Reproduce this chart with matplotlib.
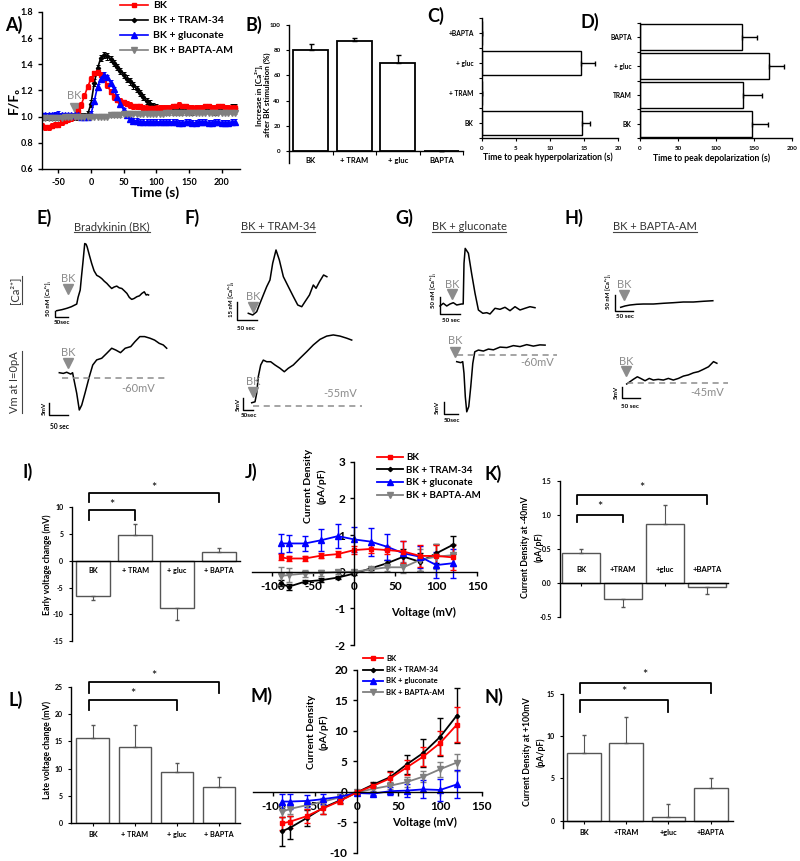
import matplotlib
matplotlib.use("Agg")
import matplotlib.pyplot as plt
import numpy as np
from matplotlib.lines import Line2D

plt.rcParams["font.family"] = ["Lato", "DejaVu Sans"]
plt.rcParams["font.weight"] = "bold"
plt.rcParams["axes.unicode_minus"] = False
plt.rcParams["axes.linewidth"] = 1.0
plt.rcParams["xtick.major.width"] = 1.0
plt.rcParams["ytick.major.width"] = 1.0
plt.rcParams["xtick.major.size"] = 3
plt.rcParams["ytick.major.size"] = 3

W, H = 800, 861
GRAY = "#8c8c8c"

# ---------------- data ----------------
# A) normalised fluorescence, sampled every 5 s
a_time = np.arange(-75, 221, 5)
a_bk = [0.93, 0.92, 0.92, 0.93, 0.94, 0.94, 0.96, 0.97, 0.98, 0.99,
        1.00, 1.04, 1.09, 1.16, 1.23, 1.29, 1.33, 1.34, 1.32, 1.29,
        1.24, 1.19, 1.15, 1.13, 1.12, 1.11, 1.10, 1.09, 1.08, 1.08,
        1.08, 1.07, 1.07, 1.07, 1.07, 1.07, 1.07, 1.07, 1.07, 1.07,
        1.08, 1.08, 1.09, 1.08, 1.08, 1.07, 1.07, 1.07, 1.07, 1.07,
        1.08, 1.08, 1.07, 1.07, 1.08, 1.08, 1.07, 1.07, 1.07, 1.07]
a_tram = [1.00, 1.00, 1.00, 1.00, 1.00, 1.00, 1.00, 1.00, 1.00, 1.00,
          1.00, 1.00, 1.00, 1.00, 1.02, 1.10, 1.26, 1.37, 1.45, 1.47,
          1.46, 1.44, 1.41, 1.38, 1.35, 1.32, 1.29, 1.27, 1.24, 1.21,
          1.18, 1.15, 1.12, 1.10, 1.08, 1.07, 1.06, 1.06, 1.05, 1.05,
          1.05, 1.05, 1.05, 1.05, 1.05, 1.05, 1.04, 1.05, 1.05, 1.05,
          1.05, 1.05, 1.05, 1.04, 1.05, 1.05, 1.06, 1.06, 1.07, 1.07]
a_gluc = [1.01, 1.01, 1.01, 1.01, 1.015, 1.02, 1.01, 1.01, 1.01, 1.01,
          1.01, 1.01, 1.00, 1.00, 1.00, 1.02, 1.12, 1.23, 1.29, 1.32,
          1.30, 1.26, 1.21, 1.15, 1.10, 1.05, 1.01, 0.98, 0.97, 0.97,
          0.96, 0.96, 0.96, 0.96, 0.96, 0.96, 0.96, 0.96, 0.96, 0.96,
          0.96, 0.96, 0.955, 0.955, 0.96, 0.96, 0.955, 0.955, 0.96, 0.96,
          0.96, 0.955, 0.955, 0.96, 0.96, 0.955, 0.955, 0.955, 0.96, 0.96]
a_bapta = [0.99, 0.99, 0.99, 0.99, 0.99, 0.99, 0.99, 0.995, 0.995, 1.00,
           1.00, 1.00, 1.00, 1.00, 1.00, 1.00, 1.00, 1.00, 1.00, 1.00,
           1.00, 1.01, 1.01, 1.01, 1.01, 1.02, 1.02, 1.02, 1.02, 1.02,
           1.02, 1.02, 1.02, 1.02, 1.02, 1.02, 1.02, 1.02, 1.025, 1.025,
           1.025, 1.025, 1.025, 1.025, 1.025, 1.03, 1.03, 1.03, 1.03, 1.03,
           1.03, 1.03, 1.03, 1.03, 1.03, 1.03, 1.03, 1.03, 1.03, 1.03]
a_err = {"BK": 0.02, "BK + TRAM-34": 0.025, "BK + gluconate": 0.02, "BK + BAPTA-AM": 0.01}
a_bk_time = -25

# B) increase in [Ca2+]i
b_labels = ["BK", "+ TRAM", "+ gluc", "BAPTA"]
b_vals = [80, 87, 70, 0]
b_err = [5, 3, 6, 0]

# C) time to peak hyperpolarization
c_labels = ["BK", "+ TRAM", "+ gluc", "+BAPTA"]
c_vals = [14.7, 0, 14.5, 0]
c_err = [1.2, 0, 2.1, 0]

# D) time to peak depolarization
d_labels = ["BK", "TRAM", "+ gluc", "BAPTA"]
d_vals = [148, 136, 170, 134]
d_err = [20, 24, 19, 20]

# E-H) example traces (time in s, Ca in nM, Vm in mV)
e_ca_t = [0, 20, 38, 55, 75, 80, 88, 93, 98, 105, 110, 114, 122, 131, 140, 150, 160, 169, 178, 188,
          197, 206, 215, 225, 234, 244, 253, 263, 272, 281, 290, 300, 310, 319, 328, 335, 340, 344]
e_ca_v = [0, 8, 18, 30, 50, 100, 155, 260, 358, 505, 500, 480, 420, 355, 300, 266, 255, 241, 222, 205,
          185, 167, 178, 185, 172, 167, 150, 130, 100, 85, 92, 105, 112, 130, 142, 118, 122, 118]
e_vm_t = [0, 10.5, 19.5, 30, 35, 38.7, 45.8, 52.6, 59, 67.6, 79, 88, 98.4, 111.6, 124.7, 137.9,
          149, 161, 173.4, 188, 199, 212, 224.5, 238.7, 250.8, 263, 273.7, 282.6]
e_vm_v = [-57.6, -57.9, -57.4, -58.2, -57.6, -60.7, -66.4, -73.6, -71.5, -66.4, -59.3, -54.3, -52.1,
          -51.4, -49.3, -47.1, -47.9, -49.0, -47.1, -46.4, -44.3, -42.1, -42.1, -42.8, -43.6, -45.0,
          -45.7, -47.1]
e_rest = -60

f_ca_t = [0, 11.4, 21.7, 30.2, 38.8, 47.5, 56, 63, 71.6, 80.2, 90.6, 103.5, 116.4, 127.8, 138.1,
          146.7, 158, 168, 175, 184, 194.5, 203]
f_ca_v = [0, -1.4, 1.3, 8.2, 15, 21.8, 27.3, 41, 51.9, 43.7, 30, 21.8, 13.7, 6.8, 5.4, 9.6, 15,
          23.2, 20.5, 25.9, 31.4, 30]
f_vm_t = [0, 16.5, 25, 33, 45, 58, 75, 95, 116.5, 141.5, 163, 183, 208, 241.5, 275, 308, 341.5,
          375, 408, 441.5, 475, 500]
f_vm_v = [-53.6, -53.2, -49.5, -42.4, -37.4, -35.3, -36.0, -36.0, -37.4, -38.8, -40.3, -38.8,
          -37.4, -34.5, -31.7, -28.8, -26.4, -25.0, -24.5, -25.0, -25.9, -26.7]
f_rest = -55

g_ca_t = [0, 8.3, 16.8, 25, 33.3, 41.8, 54, 58, 60, 63, 71, 79, 87.5, 96, 107, 117, 125, 137.5,
          150, 162.5, 175, 187.5, 200, 212.5, 225, 237.5]
g_ca_v = [0, 7.8, 0, 5.8, 9.5, 2.9, 5.8, 5.8, 123, 166, 152, 94, 37, -11.5, -21, -19.3, -23, -6.6,
          -9.5, -3.7, -13.5, -2, -11.5, -6.6, -2, -4.9]
g_vm_t = [0, 14, 21, 25.4, 30, 35, 42, 49, 56, 63, 75.6, 93, 110.5, 128, 151, 174.5, 197.5, 220.6,
          244, 267, 290, 308]
g_vm_v = [-62.7, -63.1, -62.7, -67.4, -76.9, -83.0, -80.9, -72.8, -63.4, -58.7, -58.0, -58.4,
          -57.6, -57.9, -56.8, -57.0, -56.2, -56.6, -55.8, -56.4, -55.9, -56.0]
g_rest = -60

h_ca_t = [0, 11.7, 25.3, 43.6, 61.7, 89, 116, 143.5, 170.6, 198, 225, 251]
h_ca_v = [0, 4.2, 7.3, 9.6, 10.5, 10.5, 12.8, 14.7, 16.9, 16.9, 19.2, 21]
h_vm_t = [0, 9, 18, 29, 38, 50, 61.5, 72.5, 86, 100, 113.5, 127, 141, 154.5, 168, 182, 195.5, 209,
          223, 236.5, 245.7]
h_vm_v = [-45.3, -44.3, -43.3, -42.2, -42.9, -43.9, -42.9, -43.6, -43.3, -43.6, -42.9, -43.6,
          -42.9, -41.9, -41.4, -40.5, -40.0, -39.0, -37.9, -35.7, -36.4]
h_rest = -45

# I, K, L, N) group means
i_labels = ["BK", "+ TRAM", "+ gluc", "+ BAPTA"]
i_vals = [-6.5, 4.8, -8.8, 1.6]
i_err = [0.9, 2.0, 2.2, 0.8]
k_labels = ["BK", "+TRAM", "+gluc", "+BAPTA"]
k_vals = [0.44, -0.24, 0.86, -0.07]
k_err = [0.06, 0.11, 0.28, 0.10]
l_labels = ["BK", "+ TRAM", "+ gluc", "+ BAPTA"]
l_vals = [15.7, 14.0, 9.4, 6.5]
l_err = [2.4, 4.0, 1.7, 1.9]
n_labels = ["BK", "+TRAM", "+gluc", "+BAPTA"]
n_vals = [8.0, 9.2, 0.4, 3.9]
n_err = [2.1, 3.1, 1.6, 1.1]

# J, M) I-V relations
iv_mv = [-90, -80, -60, -40, -20, 0, 20, 40, 60, 80, 100, 120]
j_bk = [0.39, 0.36, 0.36, 0.44, 0.48, 0.59, 0.62, 0.59, 0.55, 0.43, 0.43, 0.39]
j_bk_err = [0.08, 0.08, 0.06, 0.06, 0.08, 0.10, 0.10, 0.12, 0.30, 0.30, 0.30, 0.35]
j_tram = [-0.32, -0.41, -0.27, -0.23, -0.16, -0.05, 0.09, 0.23, 0.41, 0.27, 0.50, 0.73]
j_tram_err = [0.08, 0.08, 0.05, 0.05, 0.04, 0.03, 0.05, 0.10, 0.20, 0.25, 0.25, 0.25]
j_gluc = [0.77, 0.77, 0.77, 0.86, 0.97, 0.88, 0.82, 0.68, 0.50, 0.41, 0.18, 0.23]
j_gluc_err = [0.25, 0.22, 0.20, 0.30, 0.33, 0.35, 0.38, 0.35, 0.33, 0.30, 0.35, 0.40]
j_bapta = [-0.12, -0.09, -0.05, -0.03, -0.01, 0.0, 0.06, 0.12, 0.12, 0.32, 0.41, 0.45]
j_bapta_err = [0.24, 0.20, 0.10, 0.08, 0.05, 0.03, 0.06, 0.10, 0.15, 0.30, 0.35, 0.30]

m_bk = [-5.2, -4.9, -4.0, -2.7, -1.5, -0.1, 1.0, 2.2, 4.0, 5.8, 8.0, 11.0]
m_bk_err = [1.0, 1.0, 1.1, 1.0, 0.5, 0.2, 0.4, 1.0, 1.3, 1.6, 2.0, 2.9]
m_tram = [-6.5, -5.9, -4.3, -2.6, -1.4, -0.1, 1.2, 2.4, 4.5, 6.4, 9.0, 12.5]
m_tram_err = [2.4, 1.9, 1.3, 1.0, 0.4, 0.1, 0.4, 1.0, 1.5, 2.3, 3.2, 4.5]
m_gluc = [-1.6, -1.6, -1.5, -1.2, -0.8, -0.2, -0.3, 0.1, 0.2, 0.4, 0.3, 1.2]
m_gluc_err = [1.2, 1.2, 1.0, 0.8, 0.4, 0.1, 0.3, 0.7, 1.0, 1.5, 1.8, 2.3]
m_bapta = [-3.3, -2.8, -2.2, -1.6, -0.9, -0.1, 0.5, 1.0, 1.6, 2.5, 3.7, 4.8]
m_bapta_err = [0.8, 0.8, 0.7, 0.6, 0.4, 0.1, 0.3, 0.6, 0.8, 0.9, 1.2, 1.4]

legend_labels = ["BK", "BK + TRAM-34", "BK + gluconate", "BK + BAPTA-AM"]
series_style = {"BK": ("#ff0000", "s", 3.2),
                "BK + TRAM-34": ("#000000", "D", 2.2),
                "BK + gluconate": ("#0000ff", "^", 3.8),
                "BK + BAPTA-AM": ("#808080", "v", 3.8)}

# ---------------- helpers ----------------
fig = plt.figure(figsize=(W / 100, H / 100), dpi=100)


def add_ax(l, t, r, b):
    return fig.add_axes([l / W, 1 - b / H, (r - l) / W, (b - t) / H])


def ftext(x, y, s, **kw):
    return fig.text(x / W, 1 - y / H, s, **kw)


def underline(txt, vertical=False, color="#444444"):
    bb = txt.get_window_extent(renderer=fig.canvas.get_renderer())
    if vertical:
        x = (bb.x1 + 1) / W
        ln = Line2D([x, x], [bb.y0 / H, bb.y1 / H], color=color, lw=0.8, transform=fig.transFigure)
    else:
        y = (bb.y0 + 0.5) / H
        ln = Line2D([bb.x0 / W, bb.x1 / W], [y, y], color=color, lw=0.8, transform=fig.transFigure)
    fig.add_artist(ln)


def bracket(ax, x1, x2, ytop, yleg, ystar):
    ax.plot([x1, x1, x2, x2], [yleg, ytop, ytop, yleg], color="black", lw=1.3, clip_on=False)
    ax.text((x1 + x2) / 2, ystar, "*", ha="center", va="center", fontsize=9, fontweight="normal")


def style_bar_axes(ax, tick_fs=5):
    for s in ("top", "right"):
        ax.spines[s].set_visible(False)
    ax.tick_params(labelsize=tick_fs, length=2.5, width=0.8)


def away_err(vals, errs):
    lo = [e if v < 0 else 0 for v, e in zip(vals, errs)]
    hi = [e if v >= 0 else 0 for v, e in zip(vals, errs)]
    return [lo, hi]


# ---------------- A ----------------
ax = add_ax(42, 12, 240, 169)
a_series = {"BK": a_bk, "BK + TRAM-34": a_tram, "BK + gluconate": a_gluc, "BK + BAPTA-AM": a_bapta}
handles = {}
for lab in ["BK + TRAM-34", "BK", "BK + gluconate", "BK + BAPTA-AM"]:
    col, mk, ms = series_style[lab]
    c = ax.errorbar(a_time, a_series[lab], yerr=a_err[lab], color=col, marker=mk, ms=ms, lw=1.2,
                    elinewidth=0.7, capsize=1.2, capthick=0.7)
    handles[lab] = c[0]
ax.set_xlim(-75, 228)
ax.set_ylim(0.6, 1.8)
ax.set_xticks([-50, 0, 50, 100, 150, 200])
ax.set_yticks([0.6, 0.8, 1.0, 1.2, 1.4, 1.6, 1.8])
ax.yaxis.set_major_formatter(matplotlib.ticker.FormatStrFormatter("%.1f"))
for s in ("top", "right"):
    ax.spines[s].set_visible(False)
ax.tick_params(labelsize=6.5, length=3)
ax.plot([a_bk_time], [1.07], marker="v", color=GRAY, ms=7)
ax.text(a_bk_time, 1.16, "BK", color=GRAY, fontsize=8, fontweight="normal", ha="center", va="center")
ax.legend([handles[l] for l in legend_labels], legend_labels, loc="upper left",
          bbox_to_anchor=(120 / W, 1 - 1 / H), bbox_transform=fig.transFigure, frameon=False,
          fontsize=7.5, handlelength=2.7, handletextpad=0.5, labelspacing=0.55,
          borderpad=0, borderaxespad=0)
ftext(155, 193, "Time (s)", fontsize=10, ha="center", va="center")
ftext(14, 100, "F/F₀", fontsize=10, rotation=90, ha="center", va="center")

# ---------------- B ----------------
ax = add_ax(289, 25, 463, 163)
x4 = np.arange(4)
ax.bar(x4, b_vals, 0.8, color="white", edgecolor="black", lw=1.3, zorder=2)
ax.errorbar(x4, b_vals, yerr=[[0] * 4, b_err], fmt="none", ecolor="black", elinewidth=1,
            capsize=1.8, zorder=3)
ax.set_xlim(-0.5, 3.5)
ax.set_ylim(-9.5, 100)
ax.spines["bottom"].set_position(("data", 0))
style_bar_axes(ax, 4.5)
ax.set_yticks([0, 20, 40, 60, 80, 100])
ax.set_xticks(x4)
ax.set_xticklabels(b_labels, fontsize=5.5)
ax.tick_params(axis="x", length=0, pad=4)
ax.set_xticks([0.5, 1.5, 2.5, 3.5], minor=True)
ax.tick_params(axis="x", which="minor", length=3, width=0.8)
ftext(263, 95, "Increase in [Ca²⁺]ᵢ\nafter BK stimulation (%)", fontsize=5.8, rotation=90,
      ha="center", va="center", linespacing=1.15)

# ---------------- C ----------------
ax = add_ax(482, 18, 618, 138)
ax.barh(x4, c_vals, 0.8, color="white", edgecolor="black", lw=1.0, zorder=2)
ax.errorbar(c_vals, x4, xerr=[[0] * 4, c_err], fmt="none", ecolor="black", elinewidth=1,
            capsize=1.8, zorder=3)
ax.set_xlim(0, 20)
ax.set_ylim(-0.42, 3.49)
style_bar_axes(ax, 4.5)
ax.set_yticks(x4)
ax.set_yticklabels(c_labels, fontsize=4.8)
ax.set_yticks([-0.5, 0.5, 1.5, 2.5, 3.5], minor=True)
ax.tick_params(axis="y", which="minor", length=2, width=0.8)
ax.set_xticks([0, 5, 10, 15, 20])
ftext(548, 157, "Time to peak hyperpolarization (s)", fontsize=6.2, ha="center", va="center")

# ---------------- D ----------------
ax = add_ax(640, 23, 792, 138)
ax.barh(x4, d_vals, 0.9, color="white", edgecolor="black", lw=1.0, zorder=2)
ax.errorbar(d_vals, x4, xerr=[[0] * 4, d_err], fmt="none", ecolor="black", elinewidth=1,
            capsize=1.8, zorder=3)
ax.set_xlim(0, 200)
ax.set_ylim(-0.5, 3.5)
style_bar_axes(ax, 4.5)
ax.set_yticks(x4)
ax.set_yticklabels(d_labels, fontsize=4.8)
ax.set_yticks([-0.5, 0.5, 1.5, 2.5, 3.5], minor=True)
ax.tick_params(axis="y", which="minor", length=2, width=0.8)
ax.set_xticks([0, 50, 100, 150, 200])
ftext(712, 158, "Time to peak depolarization (s)", fontsize=6.2, ha="center", va="center")


# ---------------- E-H traces ----------------
def trace(p, t, v):
    px0, py0, sx, sy, v0 = p
    ax = fig.add_axes([0, 0, 1, 1])
    ax.set_xlim(-px0 / sx, (W - px0) / sx)
    ax.set_ylim(v0 - (H - py0) / sy, v0 + py0 / sy)
    ax.axis("off")
    ax.plot(t, v, color="black", lw=1.1)
    return ax


def pxd(p, x, y):
    px0, py0, sx, sy, v0 = p
    return (x - px0) / sx, v0 + (py0 - y) / sy


def scalebar(ax, p, cx, cy, lt, lv):
    t0, v0 = pxd(p, cx, cy)
    ax.plot([t0, t0, t0 + lt], [v0 + lv, v0, v0], color="black", lw=1.0)


def bk_mark(ax, p, x, y, ty):
    ax.plot(*pxd(p, x, y), marker="v", color=GRAY, ms=6.5)
    ftext(x, ty, "BK", color=GRAY, fontsize=8, fontweight="normal", ha="center", va="center")


def rest_line(ax, t0, t1, rest, p, lx, ly, lab):
    ax.plot([t0, t1], [rest, rest], color=GRAY, lw=1.1, ls=(0, (4, 3)))
    ftext(lx, ly, lab, color=GRAY, fontsize=8, fontweight="normal", ha="center", va="center")


# E
p = (56.7, 310.7, 0.267, 0.133, 0)
ax = trace(p, e_ca_t, e_ca_v)
scalebar(ax, p, 55, 317.3, 50, 50)
bk_mark(ax, p, 68.3, 289.3, 278)
ftext(48, 299, "50 nM [Ca²⁺]ᵢ", fontsize=4.3, rotation=90, ha="center", va="center")
ftext(62, 323, "50sec", fontsize=4.5, ha="center", va="center")
p = (59.3, 378.3, 0.38, 2.33, e_rest)
ax = trace(p, e_vm_t, e_vm_v)
rest_line(ax, 6, 283, e_rest, p, 138, 388, "-60mV")
scalebar(ax, p, 49.3, 415, 50, 5)
bk_mark(ax, p, 68.3, 363.3, 353)
ftext(44, 408, "5mV", fontsize=4.5, rotation=90, ha="center", va="center")
ftext(59, 427, "50 sec", fontsize=4.8, ha="center", va="center")

# F
p = (248.3, 313.3, 0.387, 1.22, 0)
ax = trace(p, f_ca_t, f_ca_v)
scalebar(ax, p, 237.3, 320, 50, 15)
bk_mark(ax, p, 253.3, 306.7, 296.5)
ftext(231, 300, "15 nM [Ca²⁺]ᵢ", fontsize=4.3, rotation=90, ha="center", va="center")
ftext(246, 328, "50 sec", fontsize=4.5, ha="center", va="center")
p = (251.7, 406, 0.2, 2.33, f_rest)
ax = trace(p, f_vm_t, f_vm_v)
rest_line(ax, 8, 550, f_rest, p, 340, 393.3, "-55mV")
scalebar(ax, p, 243.3, 410, 50, 5)
bk_mark(ax, p, 253.3, 391.7, 381.5)
ftext(238, 404, "5mV", fontsize=4.5, rotation=90, ha="center", va="center")
ftext(249, 415.5, "50sec", fontsize=4.5, ha="center", va="center")

# G
p = (440, 306, 0.4, 0.347, 0)
ax = trace(p, g_ca_t, g_ca_v)
scalebar(ax, p, 440, 314, 50, 50)
bk_mark(ax, p, 451.7, 294, 284)
ftext(433, 291, "50 nM [Ca²⁺]ᵢ", fontsize=4.3, rotation=90, ha="center", va="center")
ftext(451, 320, "50 sec", fontsize=4.5, ha="center", va="center")
p = (456.7, 355, 0.287, 2.47, g_rest)
ax = trace(p, g_vm_t, g_vm_v)
rest_line(ax, 0, 348, g_rest, p, 537, 363, "-60mV")
scalebar(ax, p, 444, 414, 50, 5)
bk_mark(ax, p, 455, 351.7, 340)
ftext(437, 407, "5mV", fontsize=4.5, rotation=90, ha="center", va="center")
ftext(452, 420, "50sec", fontsize=4.5, ha="center", va="center")

# H
p = (620.7, 307.3, 0.367, 0.313, 0)
ax = trace(p, h_ca_t, h_ca_v)
scalebar(ax, p, 615, 310.7, 50, 50)
bk_mark(ax, p, 624, 295, 285)
ftext(608, 292, "50 nM [Ca²⁺]ᵢ", fontsize=4.3, rotation=90, ha="center", va="center")
ftext(625, 317, "50 sec", fontsize=4.5, ha="center", va="center")
p = (626.7, 383.3, 0.367, 2.33, h_rest)
ax = trace(p, h_vm_t, h_vm_v)
rest_line(ax, 0, 277, h_rest, p, 707, 392, "-45mV")
scalebar(ax, p, 621.7, 398.3, 50, 5)
bk_mark(ax, p, 626, 370.7, 361.5)
ftext(616, 392, "5mV", fontsize=4.5, rotation=90, ha="center", va="center")
ftext(630, 406, "50 sec", fontsize=4.5, ha="center", va="center")

# titles and row labels
for cx, s in [(112, "Bradykinin (BK)"), (278, "BK + TRAM-34"), (469, "BK + gluconate"),
              (655, "BK + BAPTA-AM")]:
    t = ftext(cx, 227, s, fontsize=8, fontweight="normal", color="#333333", ha="center", va="center")
    underline(t)
t = ftext(15, 290, "[Ca²⁺]", fontsize=8, fontweight="normal", color="#333333", rotation=90,
          ha="center", va="center")
underline(t, vertical=True)
t = ftext(15, 382, "Vm at I=0pA", fontsize=8, fontweight="normal", color="#333333", rotation=90,
          ha="center", va="center")
underline(t, vertical=True)

# ---------------- I ----------------
ax = add_ax(71.7, 507.3, 240, 641)
ax.bar(x4, i_vals, 0.82, color="white", edgecolor="#555555", lw=1.0, zorder=2)
ax.errorbar(x4, i_vals, yerr=away_err(i_vals, i_err), fmt="none", ecolor="#555555",
            elinewidth=0.8, capsize=1.5, zorder=3)
ax.set_xlim(-0.51, 3.5)
ax.set_ylim(-15, 10)
ax.spines["bottom"].set_position(("data", 0))
style_bar_axes(ax, 5)
ax.set_xticks([])
ax.set_yticks([-15, -10, -5, 0, 5, 10])
for xi, lab in zip(x4, i_labels):
    ax.text(xi, -1.8, lab, ha="center", va="center", fontsize=5.2)
bracket(ax, -0.1, 1.0, 9.45, 7.6, 10.5)
bracket(ax, -0.1, 3.0, 12.7, 11.0, 13.6)
ftext(47, 565, "Early voltage change (mV)", fontsize=6.3, rotation=90, ha="center", va="center")


# ---------------- J / M ----------------
def iv_panel(ax, data, xl, yl, yticks):
    lines = {}
    for lab in ["BK + TRAM-34", "BK + BAPTA-AM", "BK + gluconate", "BK"]:
        y, e = data[lab]
        col, mk, ms = series_style[lab]
        c = ax.errorbar(iv_mv, y, yerr=e, color=col, marker=mk, ms=ms, lw=1.3,
                        elinewidth=1.0, capsize=2, capthick=1.0)
        lines[lab] = c[0]
    ax.set_xlim(*xl)
    ax.set_ylim(*yl)
    ax.spines["left"].set_position(("data", 0))
    ax.spines["bottom"].set_position(("data", 0))
    for s in ("top", "right"):
        ax.spines[s].set_visible(False)
    ax.set_xticks([-100, -50, 0, 50, 100, 150])
    ax.set_yticks(yticks)
    ax.tick_params(labelsize=8.5, length=3)
    return lines


ax = add_ax(251.8, 461.7, 477.3, 645)
jl = iv_panel(ax, {"BK": (j_bk, j_bk_err), "BK + TRAM-34": (j_tram, j_tram_err),
                   "BK + gluconate": (j_gluc, j_gluc_err), "BK + BAPTA-AM": (j_bapta, j_bapta_err)},
              (-125, 150), (-2, 3), [-2, -1, 0, 1, 2, 3])
ax.legend([jl[l] for l in legend_labels], legend_labels, loc="upper left",
          bbox_to_anchor=(377 / W, 1 - 453 / H), bbox_transform=fig.transFigure, frameon=False,
          fontsize=7, handlelength=2.7, handletextpad=0.3, labelspacing=0.38,
          borderpad=0, borderaxespad=0)
ftext(423, 612, "Voltage (mV)", fontsize=8, ha="center", va="center")
ftext(315, 486, "Current Density\n(pA/pF)", fontsize=7.5, rotation=90, ha="center", va="center",
      linespacing=1.5)

ax = add_ax(252.6, 670, 481.7, 852.7)
ml = iv_panel(ax, {"BK": (m_bk, m_bk_err), "BK + TRAM-34": (m_tram, m_tram_err),
                   "BK + gluconate": (m_gluc, m_gluc_err), "BK + BAPTA-AM": (m_bapta, m_bapta_err)},
              (-125, 150), (-10, 20), [-10, -5, 0, 5, 10, 15, 20])
ax.legend([ml[l] for l in legend_labels], legend_labels, loc="upper left",
          bbox_to_anchor=(363 / W, 1 - 655 / H), bbox_transform=fig.transFigure, frameon=False,
          fontsize=5.5, handlelength=2.6, handletextpad=0.4, labelspacing=0.55,
          borderpad=0, borderaxespad=0)
ftext(424, 822, "Voltage (mV)", fontsize=8, ha="center", va="center")
ftext(318, 732, "Current Density\n(pA/pF)", fontsize=7.5, rotation=90, ha="center", va="center",
      linespacing=1.35)

# ---------------- K ----------------
ax = add_ax(560, 480.7, 728.3, 616.7)
ax.bar(x4, k_vals, 0.9, color="white", edgecolor="#555555", lw=1.0, zorder=2)
ax.errorbar(x4, k_vals, yerr=away_err(k_vals, k_err), fmt="none", ecolor="#555555",
            elinewidth=0.8, capsize=1.5, zorder=3)
ax.set_xlim(-0.5, 3.5)
ax.set_ylim(-0.5, 1.5)
ax.spines["bottom"].set_position(("data", 0))
style_bar_axes(ax, 5)
ax.set_xticks(x4)
ax.set_xticklabels([])
ax.set_yticks([-0.5, 0.0, 0.5, 1.0, 1.5])
ax.yaxis.set_major_formatter(matplotlib.ticker.FormatStrFormatter("%.1f"))
for xi, lab in zip(x4, k_labels):
    ax.text(xi, 0.2, lab, ha="center", va="center", fontsize=5.5)
bracket(ax, -0.1, 1.0, 1.0, 0.89, 1.11)
bracket(ax, -0.1, 3.0, 1.285, 1.16, 1.4)
ftext(532, 547, "Current Density at -40mV\n(pA/pF)", fontsize=6.3, rotation=90, ha="center",
      va="center", linespacing=1.5)

# ---------------- L ----------------
ax = add_ax(71, 687.3, 240, 822.7)
ax.bar(x4, l_vals, 0.78, color="white", edgecolor="#555555", lw=1.0, zorder=2)
ax.errorbar(x4, l_vals, yerr=[[0] * 4, l_err], fmt="none", ecolor="#555555",
            elinewidth=0.8, capsize=1.5, zorder=3)
ax.set_xlim(-0.52, 3.5)
ax.set_ylim(0, 25)
style_bar_axes(ax, 5)
ax.set_xticks(x4)
ax.set_xticklabels(l_labels, fontsize=5.2)
ax.set_yticks([0, 5, 10, 15, 20, 25])
bracket(ax, -0.1, 2.0, 22.7, 20.8, 23.8)
bracket(ax, -0.1, 3.0, 25.9, 23.9, 27.0)
ftext(47, 750, "Late voltage change (mV)", fontsize=6.3, rotation=90, ha="center", va="center")

# ---------------- N ----------------
ax = add_ax(563.3, 694, 733, 828)
ax.bar(x4, n_vals, 0.8, color="white", edgecolor="#555555", lw=1.0, zorder=2)
ax.errorbar(x4, n_vals, yerr=[[0] * 4, n_err], fmt="none", ecolor="#555555",
            elinewidth=0.8, capsize=1.5, zorder=3)
ax.set_xlim(-0.49, 3.53)
ax.set_ylim(-0.86, 15)
ax.spines["bottom"].set_position(("data", 0))
style_bar_axes(ax, 5)
ax.set_xticks(x4)
ax.set_xticklabels(n_labels, fontsize=5.2)
ax.set_yticks([0, 5, 10, 15])
bracket(ax, -0.1, 2.0, 14.3, 12.9, 15.2)
bracket(ax, -0.1, 3.0, 16.3, 15.1, 17.2)
ftext(534, 752, "Current Density at +100mV\n(pA/pF)", fontsize=6.3, rotation=90, ha="center",
      va="center", linespacing=1.5)

# ---------------- panel letters ----------------
for x, y, s in [(5, 25, "A)"), (245, 25, "B)"), (427, 16, "C)"), (580, 22, "D)"),
                (36, 218, "E)"), (185, 218, "F)"), (395, 218, "G)"), (565, 218, "H)"),
                (22, 472, "I)"), (245, 472, "J)"), (485, 474, "K)"),
                (9, 700, "L)"), (250, 696, "M)"), (485, 697, "N)")]:
    ftext(x, y, s, fontsize=13, ha="left", va="center")

fig.savefig("out.png", dpi=100)
